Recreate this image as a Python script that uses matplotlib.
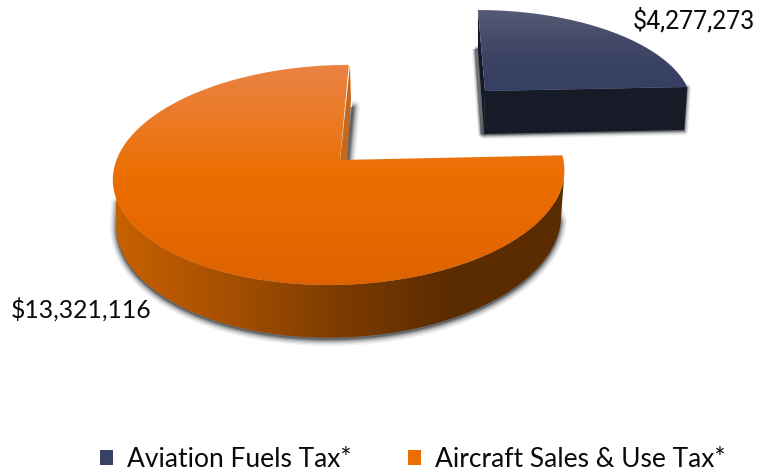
import numpy as np
import matplotlib
matplotlib.use("Agg")
import matplotlib.pyplot as plt
from matplotlib.patches import PathPatch, Patch
from matplotlib.path import Path
from matplotlib.colors import LinearSegmentedColormap

categories = ["Aviation Fuels Tax*", "Aircraft Sales & Use Tax*"]
revenue = [4277273, 13321116]
value_labels = ["$4,277,273", "$13,321,116"]

W, H = 758, 472
fig = plt.figure(figsize=(W / 100, H / 100), dpi=100)
ax = fig.add_axes([0, 0, 1, 1])
ax.set_xlim(0, W)
ax.set_ylim(H, 0)
ax.axis("off")

sweep_fuel = 360 * revenue[0] / sum(revenue)


def rim(theta, apex, rx, ry, skew, persp=0.136):
    """Project disc angles (clockwise from north, degrees) into the tilted view."""
    t = np.radians(theta)
    u, v = np.sin(t), np.cos(t)
    k = 1 + persp * v
    return np.column_stack([apex[0] + (rx * u + skew * v) / k, apex[1] - ry * v / k])


def poly(points):
    return Path(np.vstack([points, points[:1]]))


def fill_gradient(points, stops, horizontal, extent, z):
    cmap = LinearSegmentedColormap.from_list("g", stops)
    ramp = np.linspace(0, 1, 256)
    grid = ramp[None, :] if horizontal else ramp[:, None]
    patch = PathPatch(poly(points), fc="none", ec="none", zorder=z)
    ax.add_patch(patch)
    im = ax.imshow(grid, cmap=cmap, extent=extent, aspect="auto", zorder=z, interpolation="bilinear")
    im.set_clip_path(patch)
    ax.set_xlim(0, W)
    ax.set_ylim(H, 0)


def soft_shadow(points, dx, dy, z, widths=(9, 7, 5, 3.2, 1.6)):
    shifted = points + np.array([dx, dy])
    path = poly(shifted)
    for lw, a in zip(widths, [0.07, 0.10, 0.15, 0.22, 0.30]):
        ax.add_patch(PathPatch(path, fc="#505356", ec="#3c3f42", lw=lw, alpha=a, zorder=z,
                               joinstyle="round"))


# Aircraft sales slice: the larger wedge, seated at the front of the chart
ap_o = (340, 160)
geom_o = dict(apex=ap_o, rx=223.5, ry=108, skew=10)
th_o = np.linspace(sweep_fuel, 360, 400)
top_o = np.vstack([rim(th_o, **geom_o), [ap_o]])

th_front = np.linspace(97.8, 262.2, 300)
edge = rim(th_front, **geom_o)
lower = np.column_stack([340 + (edge[:, 0] - 340) * 0.985,
                         edge[:, 1] + 45 + (edge[:, 1] - 175) * 0.07])
wall_o = np.vstack([edge, lower[::-1]])

# The drop shadow only shows under the lower rim, so its outline starts inside the wall
shadow_o = np.vstack([edge[25:-25], lower[::-1]])
soft_shadow(shadow_o, 0, 2, 1)
cut_shadow = np.array([[352, 107], [354, 107], [349, 161], [345, 161]], float)
soft_shadow(cut_shadow, 0, 0, 1)
fill_gradient(wall_o,
              ["#c86100", "#a64f00", "#7c3b00", "#5a2c00", "#5a2c00"],
              True, (116, 566, 340, 170), 2)
cut_face = np.array([[350, 65], [340, 161], [347, 161], [351, 100]], float)
ax.add_patch(PathPatch(poly(cut_face), fc="#c5691f", ec="none", zorder=2))
fill_gradient(top_o, ["#e98344", "#eb7a25", "#ec6e00", "#e66800", "#dd6200"],
              False, (100, 580, 290, 63), 3)

# Aviation fuels slice: pulled away towards the back right
ap_b = (485, 91)
geom_b = dict(apex=ap_b, rx=204, ry=92, skew=-8)
th_b = np.linspace(0, sweep_fuel, 200)
top_b = np.vstack([[ap_b], rim(th_b, **geom_b)])
corner = top_b[-1]
wall_b = np.array([ap_b, corner, [corner[0] - 3, corner[1] + 43], [ap_b[0] - 1, ap_b[1] + 43]], float)
side_b = np.array([top_b[1], ap_b, [ap_b[0] - 1, ap_b[1] + 43], [top_b[1][0], 50]], float)

soft_shadow(wall_b, 0, 1, 1, widths=(6, 4.5, 3.2, 2, 1))
soft_shadow(np.array([[475, 49], [478, 49], [483, 134], [481, 134]], float), 0, 0, 1,
            widths=(4.5, 3.5, 2.5, 1.5, 0.8))
ax.add_patch(PathPatch(poly(side_b), fc="#15182a", ec="none", zorder=2))
ax.add_patch(PathPatch(poly(wall_b), fc="#171a27", ec="none", zorder=2))
fill_gradient(top_b, ["#565b76", "#454c6a", "#3a4264", "#353f63"], False, (470, 695, 92, 9), 3)

# Value labels and legend
ax.text(633, 21, value_labels[0], fontsize=18, family="Roboto", ha="left", va="center",
        color="#0a0a0a", zorder=5)
ax.text(11, 309, value_labels[1], fontsize=17.8, family="Lato", ha="left", va="center",
        color="#0a0a0a", zorder=5)

handles = [Patch(fc="#3a4264", ec="none"), Patch(fc="#ec6d00", ec="none")]
fig.legend(handles, categories, loc="lower left", bbox_to_anchor=(80 / W, -0.042), ncol=2, frameon=False,
           prop={"family": "Lato", "size": 19}, handlelength=0.5, handleheight=0.5,
           handletextpad=0.53, columnspacing=2.15, labelcolor="#0a0a0a", borderpad=0.25)

fig.savefig("out.png", dpi=100, facecolor="white")
